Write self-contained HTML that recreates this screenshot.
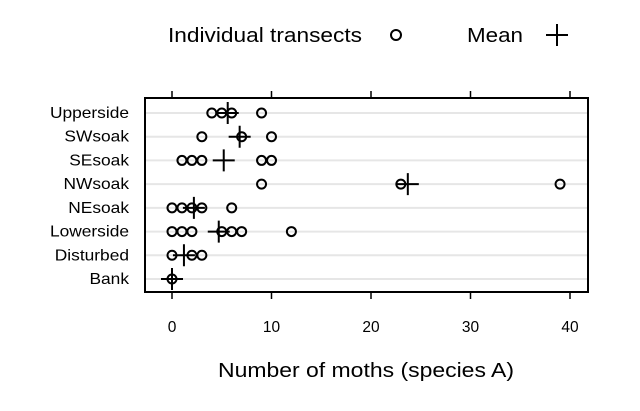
<!DOCTYPE html>
<html><head><meta charset="utf-8"><style>
body{margin:0;background:#fff}
svg{display:block;font-family:"Liberation Sans",sans-serif}
</style></head><body>
<svg id="c" width="640" height="411">
<g>
<text x="168" y="42" font-size="20" textLength="194" lengthAdjust="spacingAndGlyphs">Individual transects</text>
<circle cx="396" cy="35" r="5" fill="none" stroke="#000" stroke-width="2"/>
<text x="467" y="42" font-size="20" textLength="56" lengthAdjust="spacingAndGlyphs">Mean</text>
<path d="M546 35H568M557 24V46" stroke="#000" stroke-width="2"/>
</g>
<g id="plot"></g>
<text x="218" y="377" font-size="20" textLength="296" lengthAdjust="spacingAndGlyphs">Number of moths (species A)</text>
</svg>
<script>
const categories=["Upperside","SWsoak","SEsoak","NWsoak","NEsoak","Lowerside","Disturbed","Bank"];
const transects=[[4,5,6,9],[3,7,10],[1,2,3,9,10],[9,23,39],[0,1,2,3,6],[0,1,2,5,6,7,12],[0,2,3],[0]];
const means=[5.6,6.8,5.2,23.7,2.2,4.7,1.2,0];
const ticks=[0,10,20,30,40];
const NS="http://www.w3.org/2000/svg";
const g=document.getElementById('plot');
const X0=145,X1=588,Y0=98,Y1=292;
const x=v=>172+v*(570-172)/40;
const y=i=>113+i*(279-113)/(categories.length-1);
function mk(t,a){const e=document.createElementNS(NS,t);for(const k in a)e.setAttribute(k,a[k]);g.appendChild(e);return e;}
categories.forEach((c,i)=>{
 const l=mk('line',{x1:X0,x2:X1,y1:y(i),y2:y(i),stroke:'#e6e6e6','stroke-width':2});
 
 
 const t=mk('text',{x:129,y:y(i)+5,'font-size':15.5,'text-anchor':'end',transform:`translate(129 0) scale(1.12 1) translate(-129 0)`});t.textContent=c;
 
 
});
const box=mk('rect',{x:X0,y:Y0,width:X1-X0,height:Y1-Y0,fill:'none',stroke:'#000','stroke-width':2});


ticks.forEach(v=>{
 const a=mk('line',{x1:x(v),x2:x(v),y1:Y1,y2:Y1+7,stroke:'#000','stroke-width':1.5});
 
 
 const b=mk('line',{x1:x(v),x2:x(v),y1:Y0,y2:Y0-7,stroke:'#000','stroke-width':1.5});
 
 
 const t=mk('text',{x:x(v),y:332,'font-size':15.5,'text-anchor':'middle'});t.textContent=v;
 
 
});
transects.forEach((vals,i)=>{
 vals.forEach(v=>{
  const p=mk('circle',{cx:x(v),cy:y(i),r:4.5,fill:'none',stroke:'#000','stroke-width':2});
  
  
 });
 const m=mk('path',{d:`M${x(means[i])-11} ${y(i)}h22M${x(means[i])} ${y(i)-11}v22`,stroke:'#000','stroke-width':2});
 
 
});
</script>
</body></html>
